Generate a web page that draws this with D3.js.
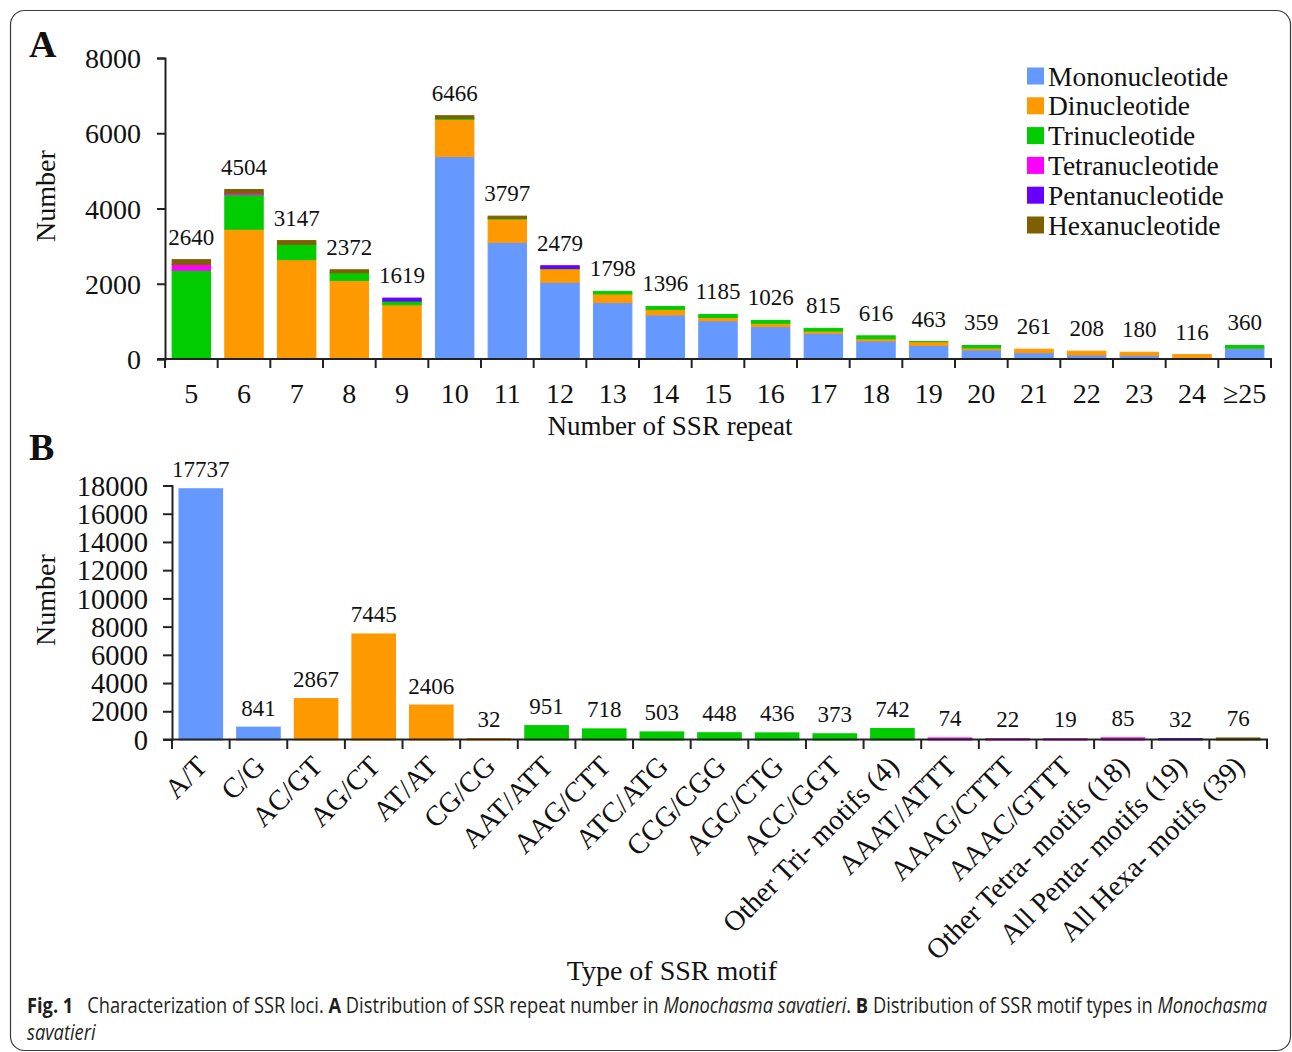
<!DOCTYPE html>
<html>
<head>
<meta charset="utf-8">
<script src="https://cdn.jsdelivr.net/npm/d3@7"></script>
<style>
  html, body { margin: 0; padding: 0; background: #fff; }
  svg { display: block; }
  .serif { font-family: "Liberation Serif", "Times New Roman", serif; fill: #111; }
</style>
</head>
<body>
<svg id="fig" width="1292" height="1052"></svg>
<script>
// ---------- Panel A: SSR repeat number, stacked by motif class ----------
const repeatCategories = ["5","6","7","8","9","10","11","12","13","14","15","16","17","18","19","20","21","22","23","24","\u226525"];
const repeatTotals     = [2640,4504,3147,2372,1619,6466,3797,2479,1798,1396,1185,1026,815,616,463,359,261,208,180,116,360];
const mononucleotide   = [0,0,0,0,0,5380,3100,2040,1500,1170,1015,860,683,478,360,240,167,106,98,35,280];
const dinucleotide     = [0,3450,2640,2090,1440,990,620,355,230,150,90,90,60,60,100,55,94,102,82,81,10];
const trinucleotide    = [2360,920,410,200,100,25,20,10,68,76,80,76,72,78,3,64,0,0,0,0,70];
const tetranucleotide  = [150,40,0,0,0,0,0,0,0,0,0,0,0,0,0,0,0,0,0,0,0];
const pentanucleotide  = [0,0,0,0,79,0,0,74,0,0,0,0,0,0,0,0,0,0,0,0,0];
const hexanucleotide   = [130,94,97,82,0,71,57,0,0,0,0,0,0,0,0,0,0,0,0,0,0];
const repeatTicks      = [0,2000,4000,6000,8000];

const classNames  = ["Mononucleotide","Dinucleotide","Trinucleotide","Tetranucleotide","Pentanucleotide","Hexanucleotide"];
const classColors = ["#6699ff","#ff9900","#00cc00","#ff00ff","#6600ff","#7f6000"];

// ---------- Panel B: SSR motif types ----------
const motifTypes  = ["A/T","C/G","AC/GT","AG/CT","AT/AT","CG/CG","AAT/ATT","AAG/CTT","ATC/ATG","CCG/CGG","AGC/CTG","ACC/GGT","Other Tri- motifs (4)","AAAT/ATTT","AAAG/CTTT","AAAC/GTTT","Other Tetra- motifs (18)","All Penta- motifs (19)","All Hexa- motifs (39)"];
const motifCounts = [17737,841,2867,7445,2406,32,951,718,503,448,436,373,742,74,22,19,85,32,76];
const motifClass  = ["Mononucleotide","Mononucleotide","Dinucleotide","Dinucleotide","Dinucleotide","Dinucleotide","Trinucleotide","Trinucleotide","Trinucleotide","Trinucleotide","Trinucleotide","Trinucleotide","Trinucleotide","Tetranucleotide","Tetranucleotide","Tetranucleotide","Tetranucleotide","Pentanucleotide","Hexanucleotide"];
const motifTicks  = [0,2000,4000,6000,8000,10000,12000,14000,16000,18000];

const svg = d3.select("#fig");
const color = d3.scaleOrdinal().domain(classNames).range(classColors);

// outer rounded frame
svg.append("rect")
  .attr("x", 10.5).attr("y", 10.5).attr("width", 1280).attr("height", 1040)
  .attr("rx", 14).attr("fill", "none").attr("stroke", "#3a3a3a").attr("stroke-width", 1.2);

// ===================== Panel A =====================
const gA = svg.append("g");
const xA = d3.scaleBand().domain(repeatCategories).range([165, 1271]).paddingInner(0.27).paddingOuter(0.135);
const yA = d3.scaleLinear().domain([0, 8000]).range([359, 58]);

const rowsA = repeatCategories.map((c, i) => ({
  cat: c,
  Mononucleotide: mononucleotide[i],
  Dinucleotide: dinucleotide[i],
  Trinucleotide: trinucleotide[i],
  Tetranucleotide: tetranucleotide[i],
  Pentanucleotide: pentanucleotide[i],
  Hexanucleotide: hexanucleotide[i],
  total: repeatTotals[i]
}));
const stacked = d3.stack().keys(classNames)(rowsA);

gA.append("g").selectAll("g")
  .data(stacked).join("g")
  .attr("fill", d => color(d.key)).attr("stroke", d => color(d.key)).attr("stroke-width", 1)
  .selectAll("rect")
  .data(d => d.filter(s => s[1] - s[0] > 0))
  .join("rect")
  .attr("x", s => xA(s.data.cat))
  .attr("width", xA.bandwidth())
  .attr("y", s => yA(s[1]))
  .attr("height", s => yA(s[0]) - yA(s[1]));

// total labels above each stack
gA.append("g").selectAll("text")
  .data(rowsA).join("text")
  .attr("class", "serif")
  .attr("x", d => xA(d.cat) + xA.bandwidth() / 2)
  .attr("y", d => yA(d.total) - 15)
  .attr("text-anchor", "middle")
  .attr("font-size", 23)
  .text(d => d.total);

// y axis A
const yAxisA = gA.append("g").attr("transform", "translate(165,0)")
  .call(d3.axisLeft(yA).tickValues(repeatTicks).tickSize(8).tickPadding(16).tickFormat(d3.format("d")));
yAxisA.select(".domain").attr("stroke", "#222").attr("stroke-width", 2);
yAxisA.selectAll(".tick line").attr("stroke", "#222").attr("stroke-width", 2);
yAxisA.selectAll(".tick text").attr("class", "serif").attr("font-size", 28).attr("dy", "0.34em");

// x axis A: baseline, boundary ticks, category labels
const stepA = xA.step();
const leftA = 165, rightA = 1271;
gA.append("line").attr("x1", leftA - 8).attr("x2", rightA + 1).attr("y1", 359).attr("y2", 359)
  .attr("stroke", "#222").attr("stroke-width", 2.2);
gA.append("g").selectAll("line")
  .data(repeatCategories.concat(["end"])).join("line")
  .attr("x1", (d, i) => leftA + i * stepA).attr("x2", (d, i) => leftA + i * stepA)
  .attr("y1", 359).attr("y2", 368)
  .attr("stroke", "#222").attr("stroke-width", 2);
gA.append("g").selectAll("text")
  .data(repeatCategories).join("text")
  .attr("class", "serif")
  .attr("x", d => xA(d) + xA.bandwidth() / 2)
  .attr("y", 403)
  .attr("text-anchor", "middle").attr("font-size", 28)
  .text(d => d);

gA.append("text").attr("class", "serif")
  .attr("x", 670).attr("y", 435).attr("text-anchor", "middle").attr("font-size", 27)
  .text("Number of SSR repeat");
gA.append("text").attr("class", "serif")
  .attr("transform", "translate(55,196) rotate(-90)").attr("text-anchor", "middle").attr("font-size", 28)
  .text("Number");
gA.append("text").attr("class", "serif")
  .attr("x", 29).attr("y", 57).attr("font-size", 38).attr("font-weight", "bold")
  .text("A");

// legend
const legend = gA.append("g").selectAll("g")
  .data(classNames).join("g")
  .attr("transform", (d, i) => `translate(1027,${76 + i * 29.8})`);
legend.append("rect").attr("x", 0).attr("y", -8.5).attr("width", 17).attr("height", 17)
  .attr("fill", d => color(d));
legend.append("text").attr("class", "serif")
  .attr("x", 21).attr("y", 0).attr("dy", "0.35em").attr("font-size", 27.5)
  .text(d => d);

// ===================== Panel B =====================
const gB = svg.append("g");
const xB = d3.scaleBand().domain(motifTypes).range([172, 1267]).paddingInner(0.26).paddingOuter(0.13);
const yB = d3.scaleLinear().domain([0, 18000]).range([739.5, 485.5]);

gB.append("g").selectAll("rect")
  .data(motifTypes.map((m, i) => ({ m, v: motifCounts[i], c: motifClass[i] })))
  .join("rect")
  .attr("x", d => xB(d.m))
  .attr("width", xB.bandwidth())
  .attr("y", d => yB(d.v))
  .attr("height", d => yB(0) - yB(d.v))
  .attr("fill", d => color(d.c))
  .attr("stroke", d => color(d.c)).attr("stroke-width", 2);

gB.append("g").selectAll("text")
  .data(motifTypes.map((m, i) => ({ m, v: motifCounts[i] })))
  .join("text")
  .attr("class", "serif")
  .attr("x", d => xB(d.m) + xB.bandwidth() / 2)
  .attr("y", d => yB(d.v) - 12)
  .attr("text-anchor", "middle").attr("font-size", 23)
  .text(d => d.v);

const yAxisB = gB.append("g").attr("transform", "translate(172,0)")
  .call(d3.axisLeft(yB).tickValues(motifTicks).tickSize(9).tickPadding(15).tickFormat(d3.format("d")));
yAxisB.select(".domain").attr("stroke", "#222").attr("stroke-width", 2);
yAxisB.selectAll(".tick line").attr("stroke", "#222").attr("stroke-width", 2);
yAxisB.selectAll(".tick text").attr("class", "serif").attr("font-size", 28.5).attr("dy", "0.34em");

const stepB = xB.step();
const leftB = 172, rightB = 1267;
gB.append("line").attr("x1", leftB - 9).attr("x2", rightB + 1).attr("y1", 739.5).attr("y2", 739.5)
  .attr("stroke", "#222").attr("stroke-width", 2.2);
gB.append("g").selectAll("line")
  .data(motifTypes.concat(["end"])).join("line")
  .attr("x1", (d, i) => leftB + i * stepB).attr("x2", (d, i) => leftB + i * stepB)
  .attr("y1", 739.5).attr("y2", 749)
  .attr("stroke", "#222").attr("stroke-width", 2);
gB.append("g").selectAll("text")
  .data(motifTypes).join("text")
  .attr("class", "serif")
  .attr("transform", d => `translate(${xB(d) + xB.bandwidth() / 2 + 8},768) rotate(-45)`)
  .attr("text-anchor", "end").attr("font-size", 28.5)
  .text(d => d);

gB.append("text").attr("class", "serif")
  .attr("x", 672).attr("y", 980).attr("text-anchor", "middle").attr("font-size", 28)
  .text("Type of SSR motif");
gB.append("text").attr("class", "serif")
  .attr("transform", "translate(55,600) rotate(-90)").attr("text-anchor", "middle").attr("font-size", 28)
  .text("Number");
gB.append("text").attr("class", "serif")
  .attr("x", 29).attr("y", 460).attr("font-size", 38).attr("font-weight", "bold")
  .text("B");

// ===================== Caption =====================
const cap = svg.append("g").attr("font-family", "'Liberation Sans Narrow', 'Open Sans', sans-serif")
  .attr("font-size", 21).attr("fill", "#231f20");
const line1 = cap.append("text").attr("x", 0).attr("y", 0);
[
  ["Fig. 1", "bold", "normal"],
  ["\u2002 Characterization of SSR loci. ", "normal", "normal"],
  ["A", "bold", "normal"],
  [" Distribution of SSR repeat number in ", "normal", "normal"],
  ["Monochasma savatieri", "normal", "italic"],
  [". ", "normal", "normal"],
  ["B", "bold", "normal"],
  [" Distribution of SSR motif types in ", "normal", "normal"],
  ["Monochasma", "normal", "italic"]
].forEach(([t, w, s]) => line1.append("tspan").attr("font-weight", w).attr("font-style", s).text(t));
const w1 = line1.node().getComputedTextLength();
const sx = 1241 / w1;
line1.attr("transform", `translate(27,1013) scale(${sx},1)`);
cap.append("text").attr("transform", `translate(27,1040) scale(${sx},1)`)
  .attr("font-style", "italic").text("savatieri");
</script>
</body>
</html>
